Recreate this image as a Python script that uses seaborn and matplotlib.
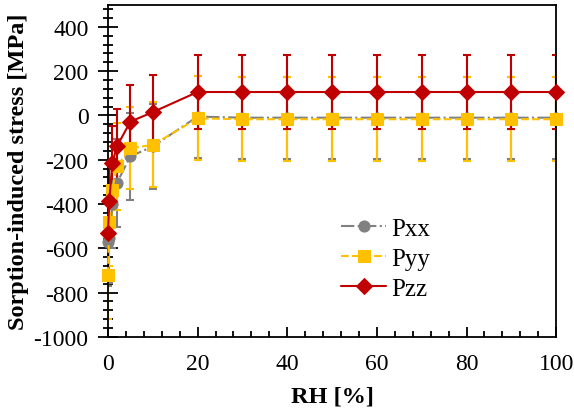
import numpy as np
import matplotlib
matplotlib.use("Agg")
import matplotlib.pyplot as plt
import seaborn as sns
from matplotlib.ticker import MultipleLocator

# relative humidity steps [%]
rh = [0, 0.3, 1, 2, 5, 10, 20, 30, 40, 50, 60, 70, 80, 90, 100]

# sorption-induced stress components [MPa]
pxx = [-572, -555, -400, -305, -185, -140, -5, -10, -10, -10, -10, -10, -10, -10, -10]
pyy = [-720, -480, -335, -230, -148, -133, -13, -17, -17, -17, -17, -17, -17, -17, -17]
pzz = [-533, -387, -215, -140, -28, 15, 106, 106, 106, 106, 106, 106, 106, 106, 106]

# standard deviations [MPa]
pxx_err = [200, 200, 200, 200, 195, 190, 185, 185, 185, 185, 185, 185, 185, 185, 185]
pyy_err = [200, 200, 195, 195, 185, 192, 190, 190, 190, 190, 190, 190, 190, 190, 190]
pzz_err = [168, 168, 168, 169, 167, 166, 168, 168, 168, 168, 168, 168, 168, 168, 168]

series = [
    ("Pxx", pxx, pxx_err, "#808080", "-.", "o", 8),
    ("Pyy", pyy, pyy_err, "#FFC000", "--", "s", 8),
    ("Pzz", pzz, pzz_err, "#C00000", "-", "D", 8),
]

sns.set_style("ticks")
plt.rcParams["font.family"] = "serif"
plt.rcParams["font.serif"] = ["Liberation Serif", "DejaVu Serif"]
plt.rcParams["axes.unicode_minus"] = False
for key in ["text.color", "axes.labelcolor", "xtick.color", "ytick.color", "axes.edgecolor"]:
    plt.rcParams[key] = "black"

fig = plt.figure(figsize=(5.74, 4.14), dpi=100)
ax = fig.add_axes([0.188, 0.184, 0.781, 0.802])

for name, vals, err, color, ls, marker, ms in series:
    ax.errorbar(rh, vals, yerr=err, fmt="none", ecolor=color, elinewidth=1.5,
                capsize=3, capthick=1.5, zorder=2)
    sns.lineplot(x=rh, y=vals, ax=ax, color=color, linestyle=ls, linewidth=1.5,
                 marker=marker, markersize=ms, markeredgecolor=color,
                 label=name, sort=False, zorder=3, clip_on=False)

ax.set_xlim(0, 100)
ax.set_ylim(-1000, 500)
ax.xaxis.set_major_locator(MultipleLocator(20))
ax.xaxis.set_minor_locator(MultipleLocator(4))
ax.yaxis.set_minor_locator(MultipleLocator(40))
ax.set_yticks(np.arange(-1000, 401, 200))

ax.tick_params(axis="x", which="major", direction="in", length=7, width=1.3, labelsize=17, pad=12)
ax.tick_params(axis="x", which="minor", direction="in", length=4, width=1.3)
ax.tick_params(axis="y", which="major", direction="inout", length=14, width=1.3, labelsize=17, pad=7)
ax.tick_params(axis="y", which="minor", direction="inout", length=7, width=1.3)
for sp in ax.spines.values():
    sp.set_linewidth(1.3)
    sp.set_color("black")

ax.set_xlabel("RH [%]", fontsize=17.5, fontweight="bold", labelpad=8)
ax.set_ylabel("Sorption-induced stress [MPa]", fontsize=17.5, fontweight="bold", labelpad=3)

ax.legend(loc="center left", bbox_to_anchor=(0.52, 0.235), frameon=False,
          fontsize=18, handlelength=1.8, handletextpad=0.2, labelspacing=0.3,
          borderpad=0, borderaxespad=0)

fig.savefig("out.png", dpi=100)
